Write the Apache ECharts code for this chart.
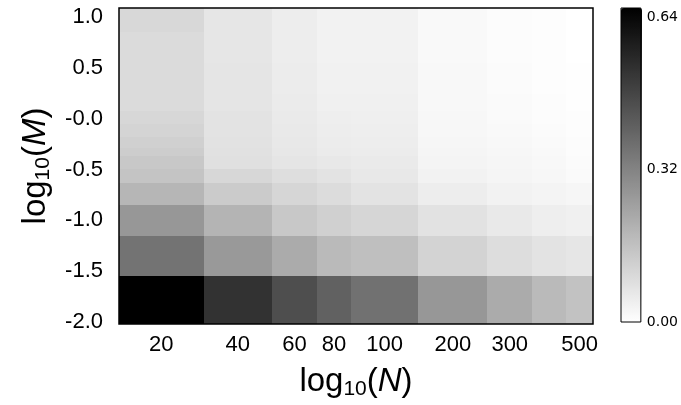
<!DOCTYPE html>
<html>
<head>
<meta charset="utf-8">
<script src="https://cdn.jsdelivr.net/npm/echarts@6/dist/echarts.min.js"></script>
<style>html,body{margin:0;padding:0;background:#fff}#c{width:681px;height:405px}</style>
</head>
<body>
<div id="c"></div>
<script>
// ---- data ----
const nValues = [20, 40, 60, 80, 100, 200, 300, 400, 500];
const xTickLabels = ['20', '40', '60', '80', '100', '200', '300', '', '500'];
// column bin edges along the log10(N) axis
const nEdges = [1.150, 1.435, 1.665, 1.817, 1.931, 2.159, 2.390, 2.543, 2.657, 2.747];
// row bin edges along the log10(M) axis (bottom to top)
const mEdges = [-2.02, -1.55, -1.15, -0.85, -0.63, -0.49, -0.37, -0.29, -0.18, -0.05, 0.08, 0.24, 0.55, 0.85, 1.09];
const yTicks = [-2.0, -1.5, -1.0, -0.5, 0.0, 0.5, 1.0];
const yTickLabels = ['-2.0', '-1.5', '-1.0', '-0.5', '-0.0', '0.5', '1.0'];
const cbTicks = [0.0, 0.32, 0.64];
const cbMax = 0.66;
// cell values per column (bottom row first)
const v20  = [0.660, 0.362, 0.269, 0.189, 0.153, 0.142, 0.129, 0.122, 0.111, 0.104, 0.093, 0.093, 0.093, 0.101];
const v40  = [0.531, 0.264, 0.194, 0.135, 0.104, 0.080, 0.078, 0.075, 0.072, 0.072, 0.067, 0.067, 0.065, 0.065];
const v60  = [0.458, 0.217, 0.142, 0.106, 0.085, 0.067, 0.062, 0.060, 0.057, 0.054, 0.052, 0.049, 0.047, 0.047];
const v80  = [0.409, 0.179, 0.122, 0.091, 0.072, 0.060, 0.052, 0.049, 0.047, 0.044, 0.039, 0.036, 0.034, 0.034];
const v100 = [0.367, 0.166, 0.106, 0.072, 0.060, 0.054, 0.049, 0.047, 0.044, 0.041, 0.039, 0.036, 0.034, 0.034];
const v200 = [0.269, 0.114, 0.075, 0.047, 0.034, 0.028, 0.026, 0.023, 0.021, 0.021, 0.018, 0.018, 0.016, 0.016];
const v300 = [0.217, 0.088, 0.057, 0.034, 0.026, 0.023, 0.021, 0.018, 0.016, 0.013, 0.013, 0.010, 0.008, 0.008];
const v400 = [0.179, 0.072, 0.044, 0.028, 0.021, 0.018, 0.016, 0.013, 0.010, 0.008, 0.008, 0.005, 0.005, 0.005];
const v500 = [0.158, 0.065, 0.039, 0.023, 0.013, 0.010, 0.008, 0.008, 0.005, 0.005, 0.003, 0.003, 0.000, 0.000];
const columns = [v20, v40, v60, v80, v100, v200, v300, v400, v500];

// ---- build ----
const cells = [];
columns.forEach((col, i) => {
  col.forEach((v, j) => {
    cells.push([nEdges[i], nEdges[i + 1], mEdges[j], mEdges[j + 1], v]);
  });
});
const xCenters = nValues.map((_, i) => (nEdges[i] + nEdges[i + 1]) / 2);

const F = "'Liberation Sans', Arial, sans-serif";
const nameRich = {
  a: { fontSize: 33, fontFamily: F, color: '#000', lineHeight: 36 },
  i: { fontSize: 33, fontFamily: F, color: '#000', fontStyle: 'italic', lineHeight: 36 },
  s: { fontSize: 21, fontFamily: F, color: '#000', lineHeight: 36, verticalAlign: 'bottom', padding: [11, 0, 0, 0] }
};

const chart = echarts.init(document.getElementById('c'), null, { renderer: 'canvas' });
chart.setOption({
  animation: false,
  backgroundColor: '#fff',
  grid: [
    { left: 119, top: 8, width: 474, height: 316, show: true, borderColor: '#000', borderWidth: 1.5, backgroundColor: 'transparent', z: 10 },
    { left: 621, top: 8, width: 21, height: 314, show: true, borderColor: '#000', borderWidth: 1, backgroundColor: 'transparent', z: 10 }
  ],
  xAxis: [
    {
      type: 'value', gridIndex: 0, min: nEdges[0], max: nEdges[nEdges.length - 1],
      axisLine: { show: false }, axisTick: { show: false }, splitLine: { show: false },
      axisLabel: {
        customValues: xCenters, margin: 10, fontSize: 22, fontFamily: F, color: '#000',
        formatter: (v) => { const k = xCenters.findIndex(c => Math.abs(c - v) < 1e-6); return k >= 0 ? xTickLabels[k] : ''; }
      },
      name: '{a|log}{s|10}{a|(}{i|N}{a|)}', nameLocation: 'middle', nameGap: 40,
      nameTextStyle: { rich: nameRich }
    },
    { type: 'value', gridIndex: 1, min: 0, max: 1, show: false }
  ],
  yAxis: [
    {
      type: 'value', gridIndex: 0, min: mEdges[0], max: mEdges[mEdges.length - 1],
      axisLine: { show: false }, axisTick: { show: false }, splitLine: { show: false },
      axisLabel: {
        customValues: yTicks, margin: 16, fontSize: 22, fontFamily: F, color: '#000',
        formatter: (v) => { const k = yTicks.findIndex(t => Math.abs(t - v) < 1e-6); return k >= 0 ? yTickLabels[k] : ''; }
      },
      name: '{a|log}{s|10}{a|(}{i|M}{a|)}', nameLocation: 'middle', nameGap: 65, nameRotate: 90,
      nameTextStyle: { rich: nameRich }
    },
    {
      type: 'value', gridIndex: 1, min: 0, max: cbMax, position: 'right',
      axisLine: { show: false }, axisTick: { show: false }, splitLine: { show: false },
      axisLabel: {
        customValues: cbTicks, margin: 6, fontSize: 14, fontFamily: "'DejaVu Sans', sans-serif", color: '#000',
        formatter: (v) => v.toFixed(2)
      }
    }
  ],
  visualMap: {
    type: 'continuous', min: 0, max: cbMax, dimension: 4, seriesIndex: 0,
    calculable: false, show: true, orient: 'vertical', left: 621, top: 8, padding: 0,
    itemWidth: 21, itemHeight: 314, text: null, showLabel: false,
    inRange: { color: ['#ffffff', '#000000'] }
  },
  series: [{
    type: 'custom',
    xAxisIndex: 0, yAxisIndex: 0,
    encode: { x: [0, 1], y: [2, 3] },
    data: cells,
    renderItem: function (params, api) {
      const p0 = api.coord([api.value(0), api.value(3)]);
      const p1 = api.coord([api.value(1), api.value(2)]);
      const x0 = Math.round(p0[0]), y0 = Math.round(p0[1]);
      const x1 = Math.round(p1[0]), y1 = Math.round(p1[1]);
      return {
        type: 'rect',
        shape: { x: x0, y: y0, width: x1 - x0, height: y1 - y0 },
        style: { fill: api.visual('color') }
      };
    }
  }]
});
</script>
</body>
</html>
